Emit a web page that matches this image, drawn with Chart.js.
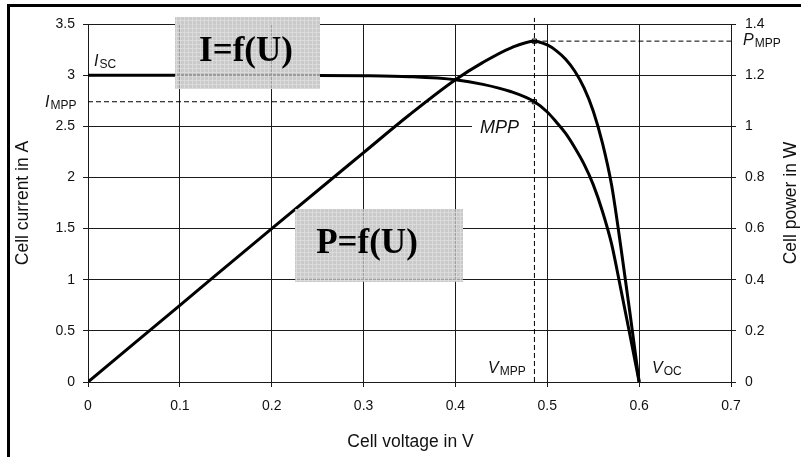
<!DOCTYPE html>
<html>
<head>
<meta charset="utf-8">
<script src="https://cdn.jsdelivr.net/npm/chart.js@4.4.1/dist/chart.umd.min.js"></script>
<style>
  html, body { margin: 0; padding: 0; background: #fff; }
  #wrap { width: 801px; height: 457px; }
</style>
</head>
<body>
<div id="wrap"><canvas id="pvChart" width="801" height="457"></canvas></div>
<script>
/* solar cell: I-V and P-V curves with maximum power point */

// I = f(U)
const voltageI = [0, 0.1, 0.2, 0.3, 0.35, 0.4, 0.43, 0.46, 0.486, 0.5, 0.51, 0.52, 0.53, 0.54, 0.55, 0.56, 0.57, 0.58, 0.59, 0.6];
const current  = [3.0, 3.0, 3.0, 2.995, 2.985, 2.955, 2.91, 2.84, 2.74, 2.64, 2.54, 2.43, 2.29, 2.13, 1.93, 1.67, 1.35, 0.91, 0.46, 0];

// P = f(U)
const voltageP = [0, 0.1, 0.2, 0.3, 0.35, 0.4, 0.43, 0.46, 0.486, 0.5, 0.51, 0.52, 0.53, 0.54, 0.55, 0.56, 0.57, 0.58, 0.59, 0.6];
const power    = [0, 0.3, 0.6, 0.897, 1.045, 1.182, 1.25, 1.306, 1.333, 1.318, 1.295, 1.262, 1.215, 1.15, 1.06, 0.935, 0.77, 0.53, 0.27, 0];

// maximum power point
const V_MPP = 0.486;
const I_MPP = 2.74;
const P_MPP = 1.333;

// axis ticks
const xTicks  = [0, 0.1, 0.2, 0.3, 0.4, 0.5, 0.6, 0.7];
const yTicks  = [0, 0.5, 1, 1.5, 2, 2.5, 3, 3.5];
const y1Ticks = [0, 0.2, 0.4, 0.6, 0.8, 1, 1.2, 1.4];

const FONT = "'Liberation Sans', Arial, sans-serif";
const SERIF = "'Liberation Serif', 'Times New Roman', serif";
const INK = '#111';
const GRID = '#1a1a1a';
const tickFont = { family: FONT, size: 14 };

const pts = (xs, ys) => xs.map((x, i) => ({ x, y: ys[i] }));
const fmt = v => String(+v.toFixed(2));
const setTicks = arr => scale => { scale.ticks = arr.map(v => ({ value: v })); };

const curve = { showLine: true, pointRadius: 0, borderColor: '#000', backgroundColor: 'transparent', borderWidth: 3, cubicInterpolationMode: 'monotone' };
const dashed = { showLine: true, pointRadius: 0, borderColor: '#000', backgroundColor: 'transparent', borderWidth: 1, borderDash: [5, 3], clip: false };
const marker = { showLine: false, pointStyle: 'rect', pointRadius: 3, pointBackgroundColor: '#fff', pointBorderColor: '#000', pointBorderWidth: 1 };

/* ── box texture ───────────────────────────────────────────────── */
function boxPattern(ctx) {
  const c = document.createElement('canvas');
  c.width = 4; c.height = 4;
  const g = c.getContext('2d');
  g.fillStyle = 'rgba(190,190,190,0.82)';
  g.fillRect(0, 0, 4, 4);
  g.fillStyle = 'rgba(222,222,222,0.82)';
  g.fillRect(0, 0, 4, 1);
  g.fillRect(0, 0, 1, 4);
  return ctx.createPattern(c, 'repeat');
}

function subLabel(ctx, main, sub, x, y) {
  ctx.textAlign = 'left';
  ctx.textBaseline = 'alphabetic';
  ctx.font = 'italic 16px ' + FONT;
  ctx.fillText(main, x, y);
  const w = ctx.measureText(main).width;
  ctx.font = '12px ' + FONT;
  ctx.fillText(sub, x + w + 1, y + 2);
}

function fBox(ctx, text, x0, y0, x1, y1, tx, ty) {
  ctx.fillStyle = boxPattern(ctx);
  ctx.fillRect(x0, y0, x1 - x0, y1 - y0);
  ctx.fillStyle = '#000';
  ctx.font = 'bold 35px ' + SERIF;
  ctx.textAlign = 'center';
  ctx.textBaseline = 'middle';
  ctx.fillText(text, tx, ty);
}

const overlay = {
  id: 'overlay',
  afterDraw(chart) {
    const ctx = chart.ctx;
    const a = chart.chartArea;
    const y = chart.scales.y, y1 = chart.scales.y1;
    ctx.save();

    // outer frame (top and left only)
    ctx.fillStyle = '#000';
    ctx.fillRect(7, 4, chart.width - 7, 3);
    ctx.fillRect(7, 4, 3, chart.height - 4);

    // formula boxes
    fBox(ctx, 'I=f(U)', 175, 17, 320, 89, 246, 52);
    fBox(ctx, 'P=f(U)', 295, 209, 463, 282, 367, 244);

    // MPP label on white
    ctx.fillStyle = '#fff';
    ctx.fillRect(472, 117, 60, 18);
    ctx.fillStyle = INK;
    ctx.font = 'italic 18px ' + FONT;
    ctx.textAlign = 'left';
    ctx.textBaseline = 'alphabetic';
    ctx.fillText('MPP', 480, 133);

    subLabel(ctx, 'I', 'SC', 94, 66);
    subLabel(ctx, 'I', 'MPP', 45, y.getPixelForValue(I_MPP) + 5);
    subLabel(ctx, 'P', 'MPP', 743, y1.getPixelForValue(P_MPP) + 4);
    subLabel(ctx, 'V', 'MPP', 488, a.bottom - 9);
    subLabel(ctx, 'V', 'OC', 652, a.bottom - 9);

    // axis titles
    ctx.fillStyle = INK;
    ctx.font = '17.5px ' + FONT;
    ctx.textAlign = 'center';
    ctx.textBaseline = 'middle';
    ctx.fillText('Cell voltage in V', (a.left + a.right) / 2 + 1, 442);
    const midY = (a.top + a.bottom) / 2;
    [[23, 'Cell current in A'], [791, 'Cell power in W']].forEach(([tx, t]) => {
      ctx.save();
      ctx.translate(tx, midY);
      ctx.rotate(-Math.PI / 2);
      ctx.fillText(t, 0, 0);
      ctx.restore();
    });
    ctx.restore();
  }
};

new Chart(document.getElementById('pvChart'), {
  type: 'scatter',
  data: {
    datasets: [
      { ...dashed, data: [{ x: 0, y: I_MPP }, { x: V_MPP, y: I_MPP }], yAxisID: 'y' },
      { ...dashed, data: [{ x: V_MPP, y: 0 }, { x: V_MPP, y: 3.56 }], yAxisID: 'y' },
      { ...dashed, data: [{ x: V_MPP, y: P_MPP }, { x: xTicks[xTicks.length - 1], y: P_MPP }], yAxisID: 'y1' },
      { ...curve, label: 'I=f(U)', data: pts(voltageI, current), yAxisID: 'y' },
      { ...curve, label: 'P=f(U)', data: pts(voltageP, power), yAxisID: 'y1' },
      { ...marker, data: [{ x: V_MPP, y: I_MPP }], yAxisID: 'y' },
      { ...marker, data: [{ x: V_MPP, y: P_MPP }], yAxisID: 'y1' }
    ]
  },
  options: {
    responsive: false,
    animation: false,
    events: [],
    layout: { padding: { top: 24, left: 0, right: 0, bottom: 0 } },
    plugins: { legend: { display: false }, tooltip: { enabled: false } },
    scales: {
      x: {
        type: 'linear', min: 0, max: 0.7,
        afterBuildTicks: setTicks(xTicks),
        afterFit: s => { s.height = 75; },
        grid: { color: GRID, lineWidth: 1, tickLength: 5 },
        border: { color: GRID, width: 1 },
        ticks: { color: INK, font: tickFont, padding: 11, maxRotation: 0, autoSkip: false, callback: fmt }
      },
      y: {
        position: 'left', min: 0, max: 3.5,
        afterBuildTicks: setTicks(yTicks),
        afterFit: s => { s.width = 88; },
        grid: { color: GRID, lineWidth: 1, tickLength: 5 },
        border: { color: GRID, width: 1 },
        ticks: { color: INK, font: tickFont, padding: 8, autoSkip: false, callback: fmt }
      },
      y1: {
        position: 'right', min: 0, max: 1.4,
        afterBuildTicks: setTicks(y1Ticks),
        afterFit: s => { s.width = 70; },
        grid: { drawOnChartArea: false, color: GRID, lineWidth: 1, tickLength: 5 },
        border: { color: GRID, width: 1 },
        ticks: { color: INK, font: tickFont, padding: 9, autoSkip: false, callback: fmt }
      }
    }
  },
  plugins: [overlay]
});
</script>
</body>
</html>
